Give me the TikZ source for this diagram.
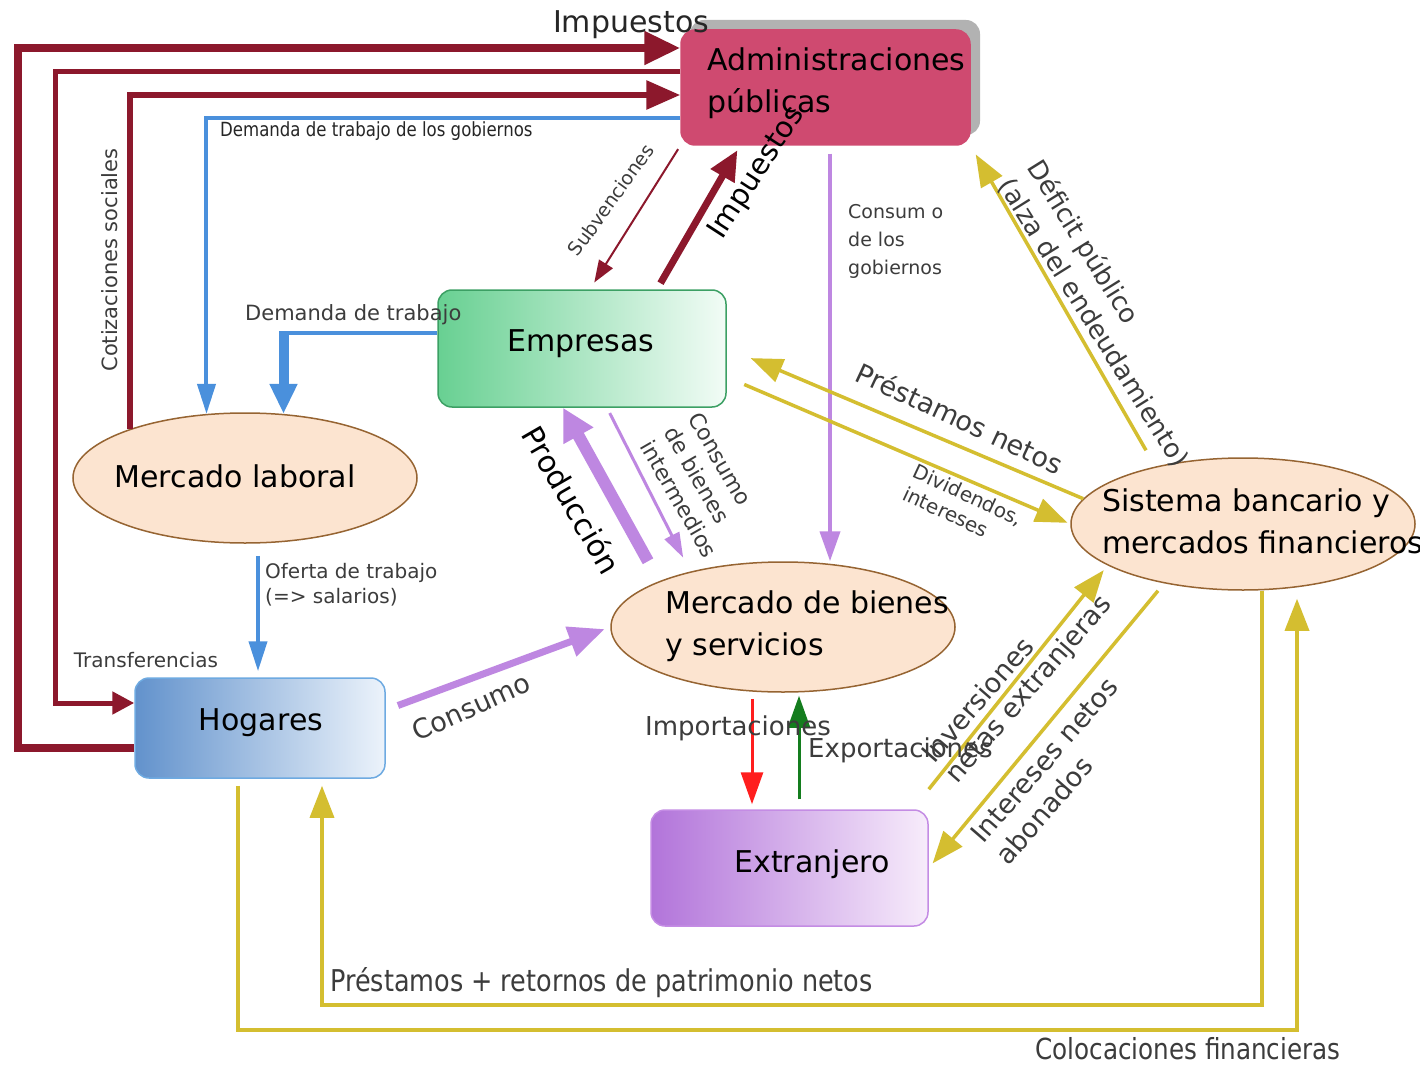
\documentclass[tikz,border=0pt]{standalone}
\usepackage{fontspec}
\setmainfont{DejaVu Sans}
\newfontfamily\condfont[FakeStretch=0.85]{DejaVu Sans}
\usetikzlibrary{arrows.meta,shapes.geometric,calc}
\newcommand\fsz[2]{\fontsize{#1}{#2}\selectfont}
\definecolor{taxc}{RGB}{140,24,44}
\definecolor{bluec}{RGB}{74,144,220}
\definecolor{purc}{RGB}{190,135,225}
\definecolor{yelc}{RGB}{212,190,48}
\definecolor{impc}{RGB}{255,30,30}
\definecolor{expc}{RGB}{20,125,30}
\definecolor{adminc}{RGB}{207,74,112}
\definecolor{shadc}{RGB}{178,178,178}
\definecolor{empL}{RGB}{104,208,146}
\definecolor{empR}{RGB}{242,252,246}
\definecolor{empD}{RGB}{60,160,100}
\definecolor{hogL}{RGB}{98,146,204}
\definecolor{hogR}{RGB}{236,243,251}
\definecolor{hogD}{RGB}{110,170,225}
\definecolor{extL}{RGB}{178,116,218}
\definecolor{extR}{RGB}{247,236,251}
\definecolor{extD}{RGB}{196,140,228}
\definecolor{ovalF}{RGB}{252,228,208}
\definecolor{ovalD}{RGB}{150,100,50}
\definecolor{labc}{RGB}{60,60,60}
\tikzset{
  box/.style={rounded corners=14pt, line width=1.5pt, inner sep=0pt},
  oval/.style={ellipse, draw=ovalD, fill=ovalF, line width=1.5pt, inner sep=0pt},
  lbl/.style={font=\fsz{30}{42}, text=black, align=left, inner sep=0pt},
  small/.style={text=labc, inner sep=0pt, align=left},
  taxl/.style={draw=taxc},
  bluel/.style={draw=bluec},
  purl/.style={draw=purc},
  yell/.style={draw=yelc, line width=3.5pt, -{Triangle[length=32pt,width=24pt]}},
}
\begin{document}
\begin{tikzpicture}[x=1pt,y=-1pt]
\useasboundingbox[fill=white] (0,0) rectangle (1420,1067);

% ---- nodes ----
\node[box, fill=shadc, minimum width=290pt, minimum height=115pt] (adsh) at (835,77.5) {};
\node[box, fill=adminc, draw=adminc, minimum width=289pt, minimum height=115pt] (admin) at (825.5,87.5) {};
\node[lbl, anchor=west] (admint) at (707,83) {Administraciones\\públicas};

\node[box, draw=empD, left color=empL, right color=empR, minimum width=288pt, minimum height=117pt] (emp) at (582,348.5) {};
\node[lbl] (empt) at (581,344) {Empresas};

\node[box, draw=hogD, left color=hogL, right color=hogR, minimum width=250pt, minimum height=100pt] (hog) at (260,728) {};
\node[lbl] (hogt) at (261,723) {Hogares};

\node[box, draw=extD, left color=extL, right color=extR, minimum width=277pt, minimum height=116pt] (ext) at (789.5,868) {};
\node[lbl] (extt) at (812,864) {Extranjero};

\node[oval, minimum width=344pt, minimum height=130pt] (ml) at (245,478) {};
\node[lbl] (mlt) at (235,476) {Mercado laboral};

\node[oval, minimum width=344pt, minimum height=130pt] (mb) at (783,627) {};
\node[lbl, anchor=west] (mbt) at (665,626) {Mercado de bienes\\y servicios};

\node[oval, minimum width=344pt, minimum height=132pt] (sb) at (1243,524) {};
\node[lbl, anchor=west] (sbt) at (1102,521) {Sistema bancario y\\mercados financieros};

% ---- tax connectors (dark red) ----
\draw[taxl, line width=8pt, -{Triangle[length=36pt,width=32pt]}]
  (hog.west |- 0,748) -| (18,48) -- (admin.west |- 0,48);
\draw[taxl, line width=5pt, -{Triangle[length=22pt,width=22pt]}]
  (admin.west |- 0,72) -| (55,703) -- (hog.west |- 0,703);
\draw[taxl, line width=6pt, -{Triangle[length=34pt,width=28pt]}]
  (ml.157) |- (admin.west |- 0,95);
\draw[taxl, line width=2pt, shorten <=4pt, shorten >=8pt, -{Triangle[length=22pt,width=16pt]}]
  (admin.south west) -- (emp.north -| 590,0);
\draw[taxl, line width=7pt, shorten <=7pt, shorten >=5pt, -{Triangle[length=30pt,width=26pt]}]
  (emp.north -| 657,0) -- (admin.south -| 740,0);

% ---- blue connectors ----
\draw[bluel, line width=4pt, -{Triangle[length=30pt,width=18pt]}]
  (admin.west |- 0,118) -| (ml.121);
\coordinate (dtc) at (ml.59 |- 0,333);
\draw[bluel, line width=4pt] (emp.west |- 0,333) -- (dtc);
\draw[bluel, line width=10pt, -{Triangle[length=30pt,width=26pt]}] ([yshift=2pt]dtc) -- (ml.59);
\draw[bluel, line width=4pt, shorten <=12pt, shorten >=6pt, -{Triangle[length=30pt,width=18pt]}]
  (ml.south -| 258,0) -- (hog.north -| 258,0);

% ---- purple connectors ----
\draw[purl, line width=4pt, shorten <=8pt, -{Triangle[length=30pt,width=20pt]}]
  (admin.south -| 830,0) -- (mb.north -| 830,0);
\draw[purl, line width=12pt, -{Triangle[length=32pt,width=32pt]}]
  (mb.north -| 648,0) -- (emp.south -| 563,0);
\draw[purl, line width=3pt, shorten <=6pt, shorten >=4pt, -{Triangle[length=25pt,width=16pt]}]
  (emp.south -| 607,0) -- (mb.north -| 685,0);
\draw[purl, line width=7pt, shorten <=13pt, shorten >=6pt, -{Triangle[length=36pt,width=30pt]}]
  (hog.east |- 0,710) -- (mb.west);

% ---- yellow connectors ----
\draw[yell, shorten >=26pt] (sb.171) -- (emp.east |- 0,348);
\draw[yell, shorten <=19pt, shorten >=3pt] (emp.east |- 0,377) -- (sb.west);
\draw[yell, shorten <=8pt, shorten >=10pt] (sb.north -| 1150,0) -- (admin.south east);
\draw[yell, shorten >=6pt] ($(ext.north east)+(0,-20)$) -- (sb.197);
\draw[yell, shorten >=6pt] (sb.south -| 1158,0) -- (ext.east);
\draw[yell, shorten >=7pt] (sb.south -| 1262,0) |- (322,1005) -- (hog.south -| 322,0);
\draw[yell, shorten <=7pt, shorten >=8pt] (hog.south -| 238,0) |- (1297,1030) -- (sb.south -| 1297,0);

% ---- imports / exports ----
\draw[draw=impc, line width=3pt, shorten <=6pt, shorten >=5pt, -{Triangle[length=32pt,width=22pt]}]
  (mb.south -| 752,0) -- (ext.north -| 752,0);
\draw[draw=expc, line width=3pt, shorten <=10pt, shorten >=3pt, -{Triangle[length=32pt,width=22pt]}]
  (ext.north -| 799,0) -- (mb.south -| 799,0);

% ---- labels ----
\node[small, text=black!85, font=\fsz{30}{36}] (imp1) at (631,25) {Impuestos};
\node[small, text=black!85, font=\condfont\fsz{19.5}{22}, anchor=west] (dgob) at (220,131) {Demanda de trabajo de los gobiernos};
\node[small, font=\fsz{21}{24}, anchor=west] (dtr) at (245,315) {Demanda de trabajo};
\node[small, font=\fsz{21}{24}, rotate=90] (cot) at (110,260) {Cotizaciones sociales};
\node[small, font=\fsz{19}{22}, rotate=54] (subv) at (611,200) {Subvenciones};
\node[small, text=black, font=\fsz{29}{34}, rotate=57] (imp2) at (757,173) {Impuestos};
\node[small, font=\fsz{19}{28}, anchor=west] (cgob) at (848,241) {Consum o\\de los\\gobiernos};
\node[small, font=\fsz{26}{34}, rotate=-58] (def) at (1108,314) {Déficit público\\(alza del endeudamiento)};
\node[small, font=\fsz{27}{32}, rotate=-25] (pn) at (960,418) {Préstamos netos};
\node[small, font=\fsz{20}{25}, rotate=-25] (div) at (963,506) {Dividendos,\\intereses};
\node[small, text=black, font=\fsz{30}{34}, rotate=-60] (prod) at (572,500) {Producción};
\node[small, font=\fsz{22}{28}, rotate=-60] (cbi) at (703,485) {Consumo\\de bienes\\intermedios};
\node[small, font=\fsz{20}{25}, anchor=west] (of) at (265,585) {Oferta de trabajo\\(=> salarios)};
\node[small, font=\fsz{20}{24}] (trf) at (146,660) {Transferencias};
\node[small, font=\fsz{27}{32}, rotate=24] (cons) at (471,707) {Consumo};
\node[small, font=\fsz{26}{30}, anchor=west] (impo) at (645,728) {Importaciones};
\node[small, font=\fsz{26}{30}, anchor=west] (expo) at (808,750) {Exportaciones};
\node[small, font=\fsz{27}{30}, rotate=49] (inv) at (1018,680) {Inversiones\\netas extranjeras};
\node[small, font=\fsz{27}{33}, rotate=49] (intn) at (1057,771) {Intereses netos\\abonados};
\node[small, font=\condfont\fsz{30}{34}, anchor=west] (pr) at (330,983) {Préstamos + retornos de patrimonio netos};
\node[small, font=\condfont\fsz{29}{34}, anchor=west] (col) at (1035,1049) {Colocaciones financieras};
\end{tikzpicture}
\end{document}
